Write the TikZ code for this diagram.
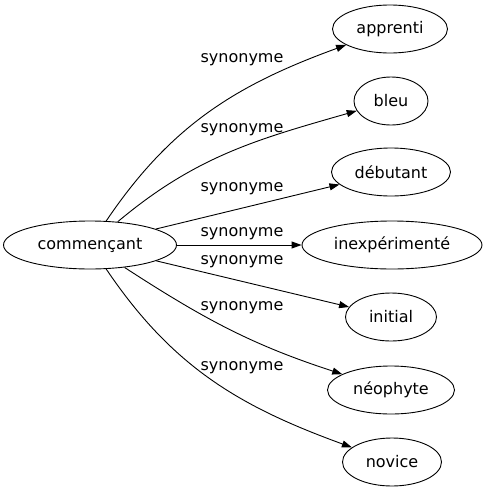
\documentclass[tikz,border=0pt]{standalone}
\usepackage{fontspec}
\setmainfont{DejaVu Sans}
\usetikzlibrary{shapes.geometric,arrows.meta}

\begin{document}
\begin{tikzpicture}[x=1pt, y=1pt, line width=0.9pt,
    every node/.style={font=\fontsize{16}{19}\selectfont},
    word/.style={draw, ellipse, minimum height=48pt, inner sep=0},
    syn/.style={-{Triangle[length=10pt, width=7pt]}}]
  \useasboundingbox (0,0) rectangle (487,-491);
  \node[word, minimum width=173pt] (root) at (90,-245) {commençant};
  \node[word, minimum width=115pt] (apprenti) at (390,-29) {apprenti};
  \node[word, minimum width=74pt] (bleu) at (391,-101) {bleu};
  \node[word, minimum width=119pt] (debutant) at (391,-172) {débutant};
  \node[word, minimum width=180pt] (inexp) at (392,-245) {inexpérimenté};
  \node[word, minimum width=91pt] (initial) at (391,-317) {initial};
  \node[word, minimum width=127pt] (neophyte) at (391,-390) {néophyte};
  \node[word, minimum width=99pt] (novice) at (392,-462) {novice};
  \node (s1) at (242,-60) {synonyme};
  \node (s2) at (242,-130) {synonyme};
  \node (s3) at (242,-189) {synonyme};
  \node (s4) at (242,-234) {synonyme};
  \node (s5) at (242,-262) {synonyme};
  \node (s6) at (242,-308) {synonyme};
  \node (s7) at (242,-368) {synonyme};
  \draw[syn] (root) to[out=56, in=200] (apprenti);
  \draw[syn] (root) to[out=40, in=196] (bleu);
  \draw[syn] (root) -- (debutant);
  \draw[syn] (root) -- (inexp);
  \draw[syn] (root) -- (initial);
  \draw[syn] (root) to[out=-33, in=162] (neophyte);
  \draw[syn] (root) to[out=-56, in=160] (novice);
\end{tikzpicture}
\end{document}
